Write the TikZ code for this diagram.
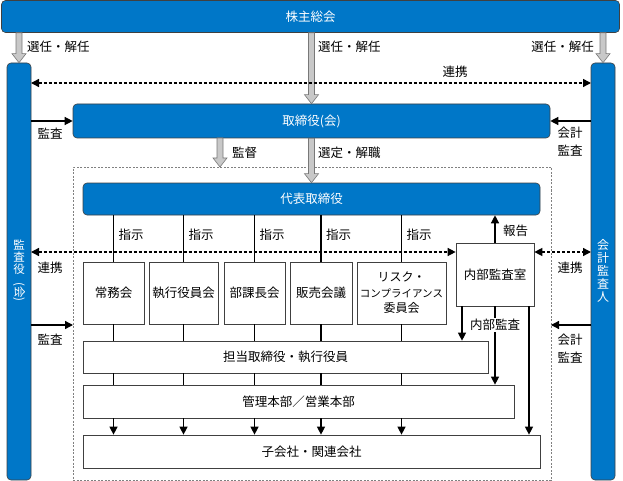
\documentclass[tikz,border=0pt]{standalone}
\usepackage{fontspec}
\usepackage{graphicx}
\setmainfont{Noto Sans CJK JP}
\usetikzlibrary{arrows.meta,calc}
\definecolor{bluebox}{RGB}{0,119,200}
\definecolor{blockfill}{RGB}{200,200,200}
\definecolor{blockline}{RGB}{120,120,120}
\tikzset{
  base/.style={inner sep=0pt, font=\fontsize{12.5}{14}\selectfont},
  bluerect/.style={base, rectangle, rounded corners=4pt, fill=bluebox, draw=black!75, line width=0.6pt, text=white},
  whitebox/.style={base, rectangle, draw=black!75, line width=0.7pt, fill=white, align=center},
  frame/.style={draw=black!50, dashed, dash pattern=on 2pt off 1.5pt, line width=0.7pt},
  lbl/.style={base, text=black},
  vt/.style={base, text=white, font=\fontsize{11.5}{12}\selectfont},
  conn/.style={draw=black, line width=1.3pt},
  arr/.style={conn, -{Triangle[length=8pt,width=8pt]}},
  dotarr/.style={draw=black, line width=1.4pt, dash pattern=on 3pt off 2pt, {Triangle[length=8pt,width=8pt]}-{Triangle[length=8pt,width=8pt]}},
  blockarrow/.style={fill=blockfill, draw=blockline, line width=0.6pt, line join=miter}
}
\newcommand\blockarr[2]{%
  \path[blockarrow] let \p1=#1, \p2=#2 in
    (\x1-3pt,\y1) -- (\x1-3pt,\y2+9pt) -- (\x1-7pt,\y2+9pt) -- (\x1,\y2)
    -- (\x1+7pt,\y2+9pt) -- (\x1+3pt,\y2+9pt) -- (\x1+3pt,\y1) -- cycle;}
\begin{document}
\begin{tikzpicture}[x=1pt,y=-1pt]
\useasboundingbox (0,0) rectangle (623,481);
% frame
\node[frame, minimum width=478pt, minimum height=313pt, inner sep=0pt] (fr) at (312,323.5) {};
% blue boxes
\node[bluerect, minimum width=618pt, minimum height=32pt] (ab) at (310.5,16.5) {株主総会};
\node[bluerect, minimum width=24pt, minimum height=417pt] (ka) at (19,271.5) {};
\node[bluerect, minimum width=24pt, minimum height=417pt] (kk) at (603,271.5) {};
\node[bluerect, minimum width=477pt, minimum height=34pt] (bd) at (311.5,121) {取締役(会)};
\node[bluerect, minimum width=457pt, minimum height=32pt] (rep) at (311.5,199) {代表取締役};
% vertical texts
\node[vt] (v1) at (19,245) {監};
\node[vt] (v2) at (19,257) {査};
\node[vt] (v3) at (19,269) {役};
\node[vt, rotate=-90] (v4) at (19,292) {(会)};
\node[vt, font=\fontsize{12}{13}\selectfont] (w1) at (603,245) {会};
\node[vt, font=\fontsize{12}{13}\selectfont] (w2) at (603,258) {計};
\node[vt, font=\fontsize{12}{13}\selectfont] (w3) at (603,271) {監};
\node[vt, font=\fontsize{12}{13}\selectfont] (w4) at (603,284) {査};
\node[vt, font=\fontsize{12}{13}\selectfont] (w5) at (603,297) {人};
% committees
\node[whitebox, minimum width=61pt, minimum height=62pt] (c1) at (113.5,293) {常務会};
\node[whitebox, minimum width=69pt, minimum height=62pt] (c2) at (183.5,293) {執行役員会};
\node[whitebox, minimum width=61pt, minimum height=62pt] (c3) at (254.5,293) {部課長会};
\node[whitebox, minimum width=62pt, minimum height=62pt] (c4) at (321,293) {販売会議};
\node[whitebox, minimum width=89pt, minimum height=62pt, font=\fontsize{12}{15.5}\selectfont] (c5) at (401.5,293) {リスク・\\{\fontsize{10.5}{15.5}\selectfont コンプライアンス}\\委員会};
\node[whitebox, minimum width=78pt, minimum height=63pt] (ia) at (495,274.5) {内部監査室};
\node[whitebox, minimum width=405pt, minimum height=32pt] (tt) at (285.5,357) {担当取締役・執行役員};
\node[whitebox, minimum width=431pt, minimum height=33pt] (kr) at (298.5,401.5) {管理本部／営業本部};
\node[whitebox, minimum width=457pt, minimum height=33pt] (sb) at (311.5,451.5) {子会社・関連会社};
% block arrows
\blockarr{(ka.north |- ab.south)}{(ka.north)}
\blockarr{(bd.north |- ab.south)}{(bd.north)}
\blockarr{(kk.north |- ab.south)}{(kk.north)}
\coordinate (kb1) at (220,138);
\coordinate (kb2) at (220,167);
\blockarr{(kb1)}{(kb2)}
\blockarr{(bd.south)}{(rep.north)}
\node[lbl, anchor=west] at (27,47) {選任・解任};
\node[lbl, anchor=west] at (318,47) {選任・解任};
\node[lbl, anchor=east] at (594,47) {選任・解任};
\node[lbl, anchor=west] at (232,153) {監督};
\node[lbl, anchor=west] at (318,153) {選定・解職};
% top dotted
\coordinate (d1) at (31,83);
\coordinate (d2) at (591,83);
\draw[dotarr] (d1) -- (d2);
\node[lbl] at (455,72) {連携};
% audit arrows to board
\draw[arr] (ka.east |- bd.west) -- (bd.west);
\draw[arr] (kk.west |- bd.east) -- (bd.east);
\node[lbl] at (50,134) {監査};
\node[lbl, align=center, font=\fontsize{12.5}{18}\selectfont] at (570,142) {会計\\監査};
% lower audit arrows
\coordinate (la) at (31,325);
\coordinate (lb) at (73,325);
\coordinate (ra) at (591,325);
\coordinate (rb) at (551,325);
\draw[arr] (la) -- (lb);
\draw[arr] (ra) -- (rb);
\node[lbl] at (50,340) {監査};
\node[lbl, align=center, font=\fontsize{12.5}{18}\selectfont] at (570,349) {会計\\監査};
% middle dotted
\coordinate (m1) at (31,252);
\coordinate (m4) at (591,252);
\draw[dotarr] (m1) -- (ia.west |- m1);
\draw[dotarr] (ia.east |- m4) -- (m4);
\node[lbl] at (50,268) {連携};
\node[lbl] at (570,268) {連携};
% instructions
\foreach \c in {c1,c2,c3,c4,c5}{
  \draw[conn] (\c.north |- rep.south) -- (\c.north);
  \node[lbl, anchor=west] at ($(\c.north |- rep.south)+(5,19)$) {指示};
  \draw[conn] (\c.south) -- (\c.south |- tt.north);
  \draw[conn] (\c.south |- tt.south) -- (\c.south |- kr.north);
  \draw[arr] (\c.south |- kr.south) -- (\c.south |- sb.north);
}
% report
\draw[arr] (ia.north) -- (ia.north |- rep.south);
\node[lbl, anchor=west] at (503,231) {報告};
% internal audit
\coordinate (i1) at (462,306);
\coordinate (i3) at (529,306);
\draw[arr] (i1) -- (i1 |- tt.north);
\draw[arr] (ia.south) -- (ia.south |- kr.north);
\draw[arr] (i3) -- (i3 |- sb.north);
\node[lbl, fill=white, inner sep=1pt] at (495,325) {内部監査};
\end{tikzpicture}
\end{document}
